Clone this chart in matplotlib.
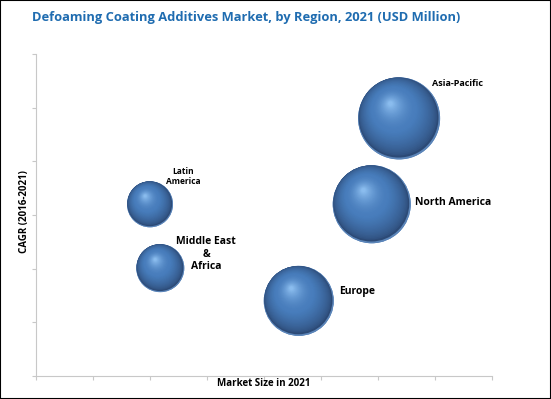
import numpy as np
import matplotlib
matplotlib.use("Agg")
import matplotlib.pyplot as plt
from matplotlib.patches import Circle, Rectangle
from matplotlib.transforms import ScaledTranslation

# data
regions = ["Asia-Pacific", "North America", "Europe", "Latin\nAmerica", "Middle East\n&\nAfrica"]
market_size = [6.37, 5.89, 4.61, 2.00, 2.18]
cagr = [4.80, 3.20, 1.40, 3.20, 2.01]
bubble_size = [41, 39, 35, 23, 24]

# label placement (offset in points from bubble centre), font size, alignment
label_offsets = [(24, 25), (31, 1), (29, 7), (24, 20), (33, 10)]
label_fs = [6.5, 7.5, 7.5, 6, 7.5]
label_ha = ["left", "left", "left", "center", "center"]

fig = plt.figure(figsize=(5.51, 3.99), dpi=100)
ax = fig.add_axes([36 / 551, 23 / 399, 456 / 551, 322 / 399])
ax.set_xlim(0, 8)
ax.set_ylim(0, 6)
ax.set_xticks(range(0, 9))
ax.set_yticks(range(0, 7))
ax.set_xticklabels([])
ax.set_yticklabels([])
for s in ["top", "right"]:
    ax.spines[s].set_visible(False)
for s in ["left", "bottom"]:
    ax.spines[s].set_color("#c8c8c8")
    ax.spines[s].set_linewidth(0.8)
ax.tick_params(colors="#c8c8c8", length=3, width=0.8)

# sphere shading colours
edge = np.array([44, 74, 118]) / 255
mid = np.array([72, 125, 188]) / 255
hi = np.array([138, 188, 238]) / 255

def shade(t):
    if t < 0.45:
        u = t / 0.45
        return edge + (mid - edge) * u ** 0.6
    u = (t - 0.45) / 0.55
    return mid + (hi - mid) * u ** 1.8

ax.scatter(market_size, cagr, s=[(2 * r * 0.72) ** 2 for r in bubble_size],
           color=tuple(mid), zorder=2, linewidths=0)

for x, y, r in zip(market_size, cagr, bubble_size):
    tr = fig.dpi_scale_trans + ScaledTranslation(x, y, ax.transData)
    R = r / 100
    # faint rim
    ax.add_patch(Circle((0, 0), R, transform=tr, color=(0.36, 0.52, 0.72), lw=0, zorder=3))
    n = 40
    for i in range(n):
        t = i / (n - 1)
        rr = R * (0.975 - 0.92 * t)
        cx = -0.2 * R * t ** 0.7 - 0.012 * R
        cy = 0.34 * R * t ** 0.7 + 0.02 * R
        ax.add_patch(Circle((cx, cy), rr, transform=tr, color=tuple(shade(t)),
                            lw=0, zorder=3))

for name, x, y, off, fs, ha in zip(regions, market_size, cagr, label_offsets, label_fs, label_ha):
    ax.annotate(name, (x, y), xytext=off, textcoords="offset points",
                ha=ha, va="center", fontsize=fs, fontweight="bold",
                family="Open Sans", linespacing=1.2, zorder=5)

fig.text(246 / 551, 1 - 17 / 399, "Defoaming Coating Additives Market, by Region, 2021 (USD Million)",
         ha="center", va="center", fontsize=9.3, fontweight="bold", color="#1f6cb0",
         family="Open Sans")
fig.text(264 / 551, 1 - 383 / 399, "Market Size in 2021", ha="center", va="center",
         fontsize=7, fontweight="bold", family="Open Sans")
fig.text(25 / 551, 1 - 212 / 399, "CAGR (2016-2021)", ha="center", va="center",
         rotation=90, fontsize=7, fontweight="bold", family="Open Sans")

fig.add_artist(Rectangle((0, 0), 1, 1, transform=fig.transFigure, fill=False,
                         edgecolor="black", lw=1.5))

fig.savefig("out.png", dpi=100)
